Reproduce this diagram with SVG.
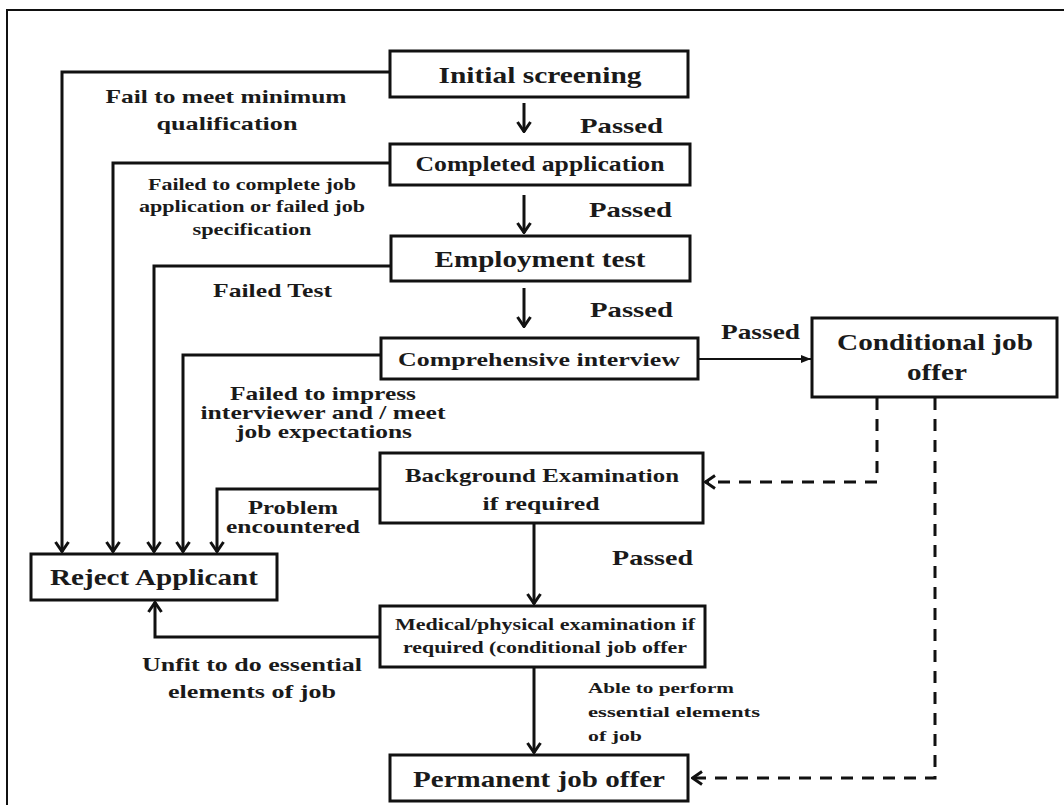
<svg xmlns="http://www.w3.org/2000/svg" width="1064" height="805" viewBox="0 0 1064 805">
<style>
.box{fill:#fff;stroke:#111;stroke-width:3}
.t{font-family:"Liberation Serif","Times New Roman",serif;font-weight:bold;fill:#1a1a1a;text-anchor:middle}
.tl{font-family:"Liberation Serif","Times New Roman",serif;font-weight:bold;fill:#1a1a1a}
.c{fill:none;stroke:#111;stroke-width:3}
.d{fill:none;stroke:#111;stroke-width:3;stroke-dasharray:12 9}
</style>
<defs>
<marker id="chev" viewBox="0 0 12 16" refX="11" refY="8" markerWidth="12" markerHeight="16" markerUnits="userSpaceOnUse" orient="auto">
<path d="M1,1.5 L10.5,8 L1,14.5" fill="none" stroke="#111" stroke-width="3"/>
</marker>
<marker id="tri" viewBox="0 0 10 10" refX="10" refY="5" markerWidth="10" markerHeight="10" markerUnits="userSpaceOnUse" orient="auto">
<path d="M0,1 L10,5 L0,9 Z" fill="#111"/>
</marker>
</defs>
<rect width="1064" height="805" fill="#fff"/>
<path d="M7,805 V10 H1064" fill="none" stroke="#111" stroke-width="2"/>

<g id="connectors">
<path class="c" d="M390,72 H62 V552" marker-end="url(#chev)"/>
<path class="c" d="M390,163 H113 V552" marker-end="url(#chev)"/>
<path class="c" d="M391,266 H154 V552" marker-end="url(#chev)"/>
<path class="c" d="M381,355 H183 V552" marker-end="url(#chev)"/>
<path class="c" d="M380,489 H217 V552" marker-end="url(#chev)"/>
<path class="c" d="M380,637 H155 V602" marker-end="url(#chev)"/>
<path class="c" d="M524,103 V132" marker-end="url(#chev)"/>
<path class="c" d="M524,195 V233" marker-end="url(#chev)"/>
<path class="c" d="M524,288 V327" marker-end="url(#chev)"/>
<path class="c" d="M534,523 V604" marker-end="url(#chev)"/>
<path class="c" d="M534,667 V753" marker-end="url(#chev)"/>
<path fill="none" stroke="#111" stroke-width="2" d="M698,359 H811" marker-end="url(#tri)"/>
<path class="d" d="M877,398 V482 H705" marker-end="url(#chev)"/>
<path class="d" d="M935,398 V778 H692" marker-end="url(#chev)"/>
</g>

<g id="labels">
<text class="t" x="226" y="103" font-size="19" textLength="241" lengthAdjust="spacingAndGlyphs">Fail to meet minimum</text>
<text class="t" x="227" y="130" font-size="19" textLength="141" lengthAdjust="spacingAndGlyphs">qualification</text>
<text class="tl" x="580" y="133" font-size="21" textLength="83" lengthAdjust="spacingAndGlyphs">Passed</text>
<text class="t" x="252" y="190" font-size="16" textLength="208" lengthAdjust="spacingAndGlyphs">Failed to complete job</text>
<text class="t" x="252" y="212" font-size="16" textLength="226" lengthAdjust="spacingAndGlyphs">application or failed job</text>
<text class="t" x="252" y="235" font-size="16" textLength="119" lengthAdjust="spacingAndGlyphs">specification</text>
<text class="tl" x="589" y="217" font-size="22" textLength="83" lengthAdjust="spacingAndGlyphs">Passed</text>
<text class="tl" x="213" y="297" font-size="19" textLength="119" lengthAdjust="spacingAndGlyphs">Failed Test</text>
<text class="tl" x="590" y="317" font-size="22" textLength="83" lengthAdjust="spacingAndGlyphs">Passed</text>
<text class="tl" x="721" y="339" font-size="21" textLength="79" lengthAdjust="spacingAndGlyphs">Passed</text>
<text class="t" x="323" y="400" font-size="19" textLength="186" lengthAdjust="spacingAndGlyphs">Failed to impress</text>
<text class="t" x="323" y="419" font-size="19" textLength="245" lengthAdjust="spacingAndGlyphs">interviewer and / meet</text>
<text class="t" x="324" y="438" font-size="19" textLength="176" lengthAdjust="spacingAndGlyphs">job expectations</text>
<text class="t" x="293" y="514" font-size="18" textLength="90" lengthAdjust="spacingAndGlyphs">Problem</text>
<text class="t" x="293" y="533" font-size="18" textLength="134" lengthAdjust="spacingAndGlyphs">encountered</text>
<text class="tl" x="612" y="565" font-size="22" textLength="81" lengthAdjust="spacingAndGlyphs">Passed</text>
<text class="t" x="252" y="671" font-size="19" textLength="220" lengthAdjust="spacingAndGlyphs">Unfit to do essential</text>
<text class="t" x="252" y="698" font-size="19" textLength="168" lengthAdjust="spacingAndGlyphs">elements of job</text>
<text class="tl" x="588" y="693" font-size="15" textLength="146" lengthAdjust="spacingAndGlyphs">Able to perform</text>
<text class="tl" x="588" y="717" font-size="15" textLength="172" lengthAdjust="spacingAndGlyphs">essential elements</text>
<text class="tl" x="588" y="741" font-size="15" textLength="54" lengthAdjust="spacingAndGlyphs">of job</text>
</g>

<g id="initial-screening">
<rect class="box" x="390" y="51" width="298" height="46"/>
<text class="t" x="540" y="83" font-size="23" textLength="203" lengthAdjust="spacingAndGlyphs">Initial screening</text>
</g>
<g id="completed-application">
<rect class="box" x="390" y="144" width="300" height="41"/>
<text class="t" x="540" y="171" font-size="20" textLength="249" lengthAdjust="spacingAndGlyphs">Completed application</text>
</g>
<g id="employment-test">
<rect class="box" x="391" y="236" width="299" height="45"/>
<text class="t" x="540" y="267" font-size="23" textLength="211" lengthAdjust="spacingAndGlyphs">Employment test</text>
</g>
<g id="comprehensive-interview">
<rect class="box" x="381" y="338" width="317" height="41"/>
<text class="t" x="539" y="366" font-size="19" textLength="282" lengthAdjust="spacingAndGlyphs">Comprehensive interview</text>
</g>
<g id="conditional-job-offer">
<rect class="box" x="812" y="318" width="245" height="79"/>
<text class="t" x="935" y="350" font-size="23" textLength="196" lengthAdjust="spacingAndGlyphs">Conditional job</text>
<text class="t" x="937" y="380" font-size="23" textLength="60" lengthAdjust="spacingAndGlyphs">offer</text>
</g>
<g id="background-examination">
<rect class="box" x="380" y="453" width="323" height="70"/>
<text class="t" x="542" y="482" font-size="19" textLength="274" lengthAdjust="spacingAndGlyphs">Background Examination</text>
<text class="t" x="541" y="510" font-size="19" textLength="117" lengthAdjust="spacingAndGlyphs">if required</text>
</g>
<g id="reject-applicant">
<rect class="box" x="31" y="554" width="246" height="46"/>
<text class="t" x="154" y="585" font-size="23" textLength="208" lengthAdjust="spacingAndGlyphs">Reject Applicant</text>
</g>
<g id="medical-examination">
<rect class="box" x="380" y="606" width="325" height="61"/>
<text class="t" x="545" y="630" font-size="16" textLength="300" lengthAdjust="spacingAndGlyphs">Medical/physical examination if</text>
<text class="t" x="545" y="653" font-size="16" textLength="284" lengthAdjust="spacingAndGlyphs">required (conditional job offer</text>
</g>
<g id="permanent-job-offer">
<rect class="box" x="390" y="755" width="298" height="46"/>
<text class="t" x="539" y="787" font-size="23" textLength="252" lengthAdjust="spacingAndGlyphs">Permanent job offer</text>
</g>
</svg>
